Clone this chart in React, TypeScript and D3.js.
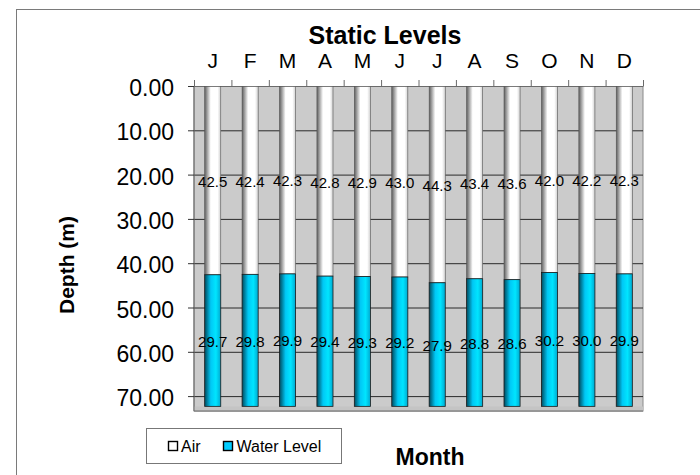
import React from "react";
import * as d3 from "d3";

const months = ["J", "F", "M", "A", "M", "J", "J", "A", "S", "O", "N", "D"];
const airValues = [42.5, 42.4, 42.3, 42.8, 42.9, 43.0, 44.3, 43.4, 43.6, 42.0, 42.2, 42.3];
const waterValues = [29.7, 29.8, 29.9, 29.4, 29.3, 29.2, 27.9, 28.8, 28.6, 30.2, 30.0, 29.9];
const yTicks = [0, 10, 20, 30, 40, 50, 60, 70];

const FONT = "'Liberation Sans', Arial, Helvetica, sans-serif";

export default function App() {
  const W = 700, H = 475;
  const left = 194, right = 643, top = 86.5, floorY = 411;
  const x = d3
    .scaleBand<number>()
    .domain(months.map((_, i) => i))
    .range([left, right])
    .paddingInner(0.57)
    .paddingOuter(0.285);
  const step = x.step();
  const y = d3.scaleLinear().domain([0, 70]).range([top, 396.6]);

  return (
    <svg width={W} height={H} style={{ position: "absolute", left: 0, top: 0 }}>
      <defs>
        <linearGradient id="airGrad" x1="0" x2="1" y1="0" y2="0">
          <stop offset="0" stopColor="#5e5e5e" />
          <stop offset="0.38" stopColor="#ffffff" />
          <stop offset="0.8" stopColor="#ffffff" />
          <stop offset="1" stopColor="#d0d0d0" />
        </linearGradient>
        <linearGradient id="waterGrad" x1="0" x2="1" y1="0" y2="0">
          <stop offset="0" stopColor="#004a5e" />
          <stop offset="0.38" stopColor="#00c8f5" />
          <stop offset="0.7" stopColor="#00e5ff" />
          <stop offset="1" stopColor="#00a8d0" />
        </linearGradient>
      </defs>
      <rect x={0} y={0} width={W} height={H} fill="#fff" />
      {/* outer chart border */}
      <rect x={16.5} y={9.5} width={W} height={H} fill="none" stroke="#7a7a7a" strokeWidth={1} />

      {/* title */}
      <text x={385} y={43.5} textAnchor="middle" fontFamily={FONT} fontWeight="bold" fontSize={25}>
        Static Levels
      </text>

      {/* wall */}
      <rect x={left} y={top} width={right - left} height={floorY - top} fill="#cbcbcb" stroke="#8a8a8a" strokeWidth={1} />
      {/* floor strip */}
      <rect x={left} y={406.5} width={right - left} height={floorY - 406.5} fill="#c4c4c4" />
      <line x1={left} x2={right} y1={floorY} y2={floorY} stroke="#6a6a6a" strokeWidth={1.2} />

      {/* gridlines */}
      {yTicks.map((t) => (
        <line key={"g" + t} x1={left} x2={right} y1={y(t)} y2={y(t)} stroke="#2a2a2a" strokeWidth={1} />
      ))}

      {/* y axis */}
      <line x1={left} x2={left} y1={top} y2={floorY} stroke="#6a6a6a" strokeWidth={1} />
      {yTicks.map((t) => (
        <g key={"yt" + t}>
          <line x1={188} x2={left} y1={y(t)} y2={y(t)} stroke="#333" strokeWidth={1} />
          <text x={174} y={y(t) + 1.5} dy="0.35em" textAnchor="end" fontFamily={FONT} fontSize={23}>
            {t.toFixed(2)}
          </text>
        </g>
      ))}
      <text
        transform={`translate(74,265) rotate(-90)`}
        textAnchor="middle"
        fontFamily={FONT}
        fontWeight="bold"
        fontSize={21}
      >
        Depth (m)
      </text>

      {/* top x axis */}
      <line x1={left} x2={right} y1={top} y2={top} stroke="#6a6a6a" strokeWidth={1} />
      {d3.range(13).map((i) => (
        <line key={"xt" + i} x1={left + i * step + 0.5} x2={left + i * step + 0.5} y1={80} y2={top} stroke="#6a6a6a" strokeWidth={1} />
      ))}
      {months.map((m, i) => (
        <text key={"m" + i} x={x(i)! + x.bandwidth() / 2} y={67.5} textAnchor="middle" fontFamily={FONT} fontSize={21}>
          {m}
        </text>
      ))}

      {/* bars */}
      {months.map((_, i) => {
        const bx = x(i)!;
        const bw = x.bandwidth();
        const a = airValues[i];
        const w = waterValues[i];
        return (
          <g key={"b" + i}>
            <rect x={bx} y={y(0)} width={bw} height={y(a) - y(0)} fill="url(#airGrad)" stroke="#555" strokeWidth={0.6} />
            <rect x={bx} y={y(a)} width={bw} height={y(a + w) - y(a)} fill="url(#waterGrad)" stroke="#1a1a1a" strokeWidth={0.8} />
          </g>
        );
      })}

      {/* data labels */}
      {months.map((_, i) => {
        const cx = x(i)! + x.bandwidth() / 2;
        const a = airValues[i];
        const w = waterValues[i];
        return (
          <g key={"l" + i} fontFamily={FONT} fontSize={15} textAnchor="middle">
            <text x={cx} y={y(a / 2) + 1} dy="0.35em">{a.toFixed(1)}</text>
            <text x={cx} y={y(a + w / 2) + 1} dy="0.35em">{w.toFixed(1)}</text>
          </g>
        );
      })}

      {/* legend */}
      <rect x={146.5} y={428.5} width={195} height={35} fill="#fff" stroke="#777" strokeWidth={1} />
      <rect x={168.5} y={441.5} width={9} height={9} fill="#fff" stroke="#000" strokeWidth={1.4} />
      <text x={181} y={446.5} dy="0.35em" fontFamily={FONT} fontSize={16}>Air</text>
      <rect x={223.5} y={441.5} width={9} height={9} fill="#00ccff" stroke="#000" strokeWidth={1.4} />
      <text x={236.5} y={446.5} dy="0.35em" fontFamily={FONT} fontSize={16}>Water Level</text>

      <text x={430} y={465} textAnchor="middle" fontFamily={FONT} fontWeight="bold" fontSize={23}>
        Month
      </text>
    </svg>
  );
}
